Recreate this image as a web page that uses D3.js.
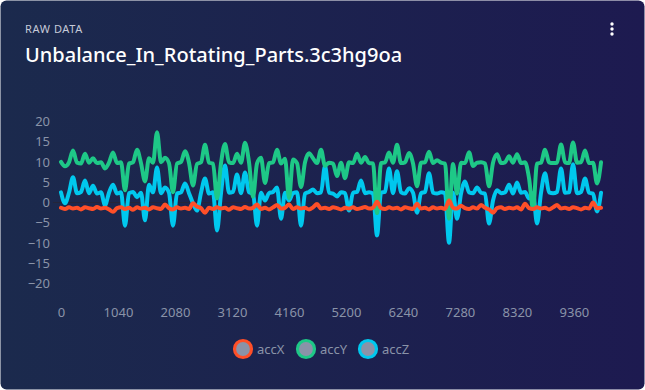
<!DOCTYPE html>
<html>
<head>
<meta charset="utf-8">
<script src="https://cdn.jsdelivr.net/npm/d3@7"></script>
<style>
    body { margin: 0; background: #ffffff; }
    svg text { font-family: "Noto Sans", "Open Sans", sans-serif; }
</style>
</head>
<body>
<div id="chart"></div>
<script>
// sample spacing on the x axis (one reading every 73 samples)
const sampleStep = 73;

const seriesNames = ['accX', 'accY', 'accZ'];
const seriesColors = ['#ff4f28', '#1ec887', '#00c8ee'];

const accX = [
    -1.3, -1.6, -1.2, -1.5, -1.3, -1.7, -1.2, -1.4, -1.6, -1.1,
    -1.5, -1.3, -1.7, -2.3, -1.4, -1.2, -1.6, -1.3, -1.8, -1.2,
    -1.5, -1.3, -1.7, -1.2, -1.4, -1.6, -0.5, -1.4, -1.7, -1.2,
    -1.5, -1.3, -1.6, -0.2, -1.0, -1.4, -2.5, -1.3, -1.6, -1.2,
    -1.5, -1.3, -1.8, -1.2, -1.4, -1.6, -1.1, -1.5, -1.3, -0.5,
    -1.6, -1.3, -1.7, -1.2, -0.6, -1.5, -1.3, -0.5, -1.6, -1.2,
    -1.5, -1.3, -1.7, -1.2, -0.4, -1.5, -1.3, -1.6, -1.2, -1.4,
    -1.7, -1.3, -1.5, -1.2, -1.6, -1.4, -1.1, -1.5, -1.3, 0.2,
    -1.4, -1.6, -1.2, -1.5, -1.3, -1.7, -1.2, -1.4, -1.6, -0.3,
    -1.5, -1.3, -1.7, -1.2, -1.5, -1.3, -1.6, 0.5, -1.3, -1.5,
    -0.8, -1.4, -1.6, -1.2, -1.5, -0.6, -1.3, -1.7, -2.5, -1.4,
    -1.2, -1.6, -1.3, -1.5, -1.2, -1.7, -0.3, -1.4, -1.6, -1.2,
    -1.5, -1.3, -1.7, -1.2, -0.6, -1.5, -1.3, -1.6, -1.2, -1.4,
    -1.7, -1.3, -1.5, 0.0, -1.4, -1.3
];

const accY = [
    10.0, 8.9, 9.9, 12.8, 9.8, 9.6, 12.0, 9.8, 10.9, 9.7,
    9.9, 8.4, 9.8, 12.3, 9.7, 9.9, 3.0, 9.6, 9.9, 13.0,
    9.7, 5.2, 10.9, 9.8, 17.3, 9.9, 11.0, 9.7, 2.5, 9.6,
    10.0, 12.6, 9.8, 4.2, 9.5, 9.9, 14.2, 9.8, 9.6, 1.0,
    9.7, 14.4, 9.9, 9.7, 12.0, 9.8, 14.7, 9.9, 1.4, 9.6,
    11.0, 4.8, 9.7, 9.9, 13.0, 9.6, 10.8, 1.1, 10.6, 9.7,
    3.8, 9.9, 12.1, 10.9, 9.7, 13.0, 9.0, 9.8, 9.6, 6.5,
    9.8, 6.0, 9.9, 9.7, 12.0, 9.8, 11.2, 9.7, 9.6, -2.6,
    9.7, 9.9, 12.3, 9.8, 14.2, 9.7, 9.9, 12.2, 9.6, 4.0,
    9.8, 9.9, 12.5, 9.7, 10.4, 9.8, 9.6, -4.0, 9.5, 2.2,
    9.8, 9.7, 12.4, 9.0, 9.8, 9.9, 9.6, 4.0, 9.8, 11.9,
    9.7, 9.9, 11.4, 9.8, 11.9, 9.7, 9.9, 6.0, -1.5, 9.6,
    9.8, 13.0, 9.9, 9.7, 9.8, 14.3, 9.9, 9.7, 14.8, 9.8,
    9.9, 12.8, 9.7, 9.8, 4.7, 9.9
];

const accZ = [
    2.5, -0.2, 2.4, 6.2, 2.3, 2.6, 5.4, 2.3, 4.1, 2.2,
    2.5, -0.7, 2.4, 4.4, 2.2, 2.5, -5.7, 2.3, 2.6, 1.3,
    2.4, -4.4, 4.4, 2.5, 8.6, 2.3, 3.7, 2.4, -5.7, 2.2,
    2.5, 4.7, 2.3, -0.2, -2.0, 2.4, 5.9, 2.2, 2.5, -6.9,
    2.3, 9.1, 2.4, 2.6, 6.9, 2.3, 7.4, 2.5, 2.2, -5.7,
    2.4, 0.5, 2.3, 2.6, 3.7, -4.0, 2.4, 0.5, 2.3, 2.5,
    -5.7, 2.2, 2.6, 3.2, 2.3, 2.5, 9.0, 2.4, 2.2, 1.5,
    2.5, 2.3, -2.0, 2.4, 2.6, 5.4, 2.3, 2.5, 2.2, -8.1,
    2.4, 2.6, 8.4, 2.3, 7.7, 2.5, 2.2, 3.5, 2.4, -2.5,
    2.3, 2.6, 7.2, 2.4, 2.2, 2.5, 2.3, -9.9, 2.4, -4.0,
    2.2, 5.2, 2.5, 2.3, 3.7, 2.4, 2.2, -5.2, 0.5, 3.0,
    2.3, 2.5, 4.4, 2.2, 4.9, 2.4, 2.6, 1.0, 2.3, -5.2,
    2.4, 7.2, 2.5, 2.3, 2.6, 8.4, 2.4, 2.5, 9.4, 2.3,
    2.6, 5.9, 2.4, 2.2, -2.2, 2.4
];

const yTicks = [-20, -15, -10, -5, 0, 5, 10, 15, 20];
const xTicks = [0, 1040, 2080, 3120, 4160, 5200, 6240, 7280, 8320, 9360];

const width = 645;
const height = 390;
const labelColor = '#8a93a8';

const svg = d3.select('#chart')
    .append('svg')
    .attr('width', width)
    .attr('height', height);

// card background
const defs = svg.append('defs');
const grad = defs.append('linearGradient')
    .attr('id', 'cardBg')
    .attr('x1', '0%').attr('y1', '0%')
    .attr('x2', '100%').attr('y2', '0%');
grad.append('stop').attr('offset', '0%').attr('stop-color', '#1b2a4d');
grad.append('stop').attr('offset', '100%').attr('stop-color', '#1d1a50');

svg.append('rect')
    .attr('x', 0.5).attr('y', 0.5)
    .attr('width', width - 1).attr('height', height - 1)
    .attr('rx', 6)
    .attr('fill', 'url(#cardBg)');

// header
svg.append('text')
    .attr('x', 25).attr('y', 33)
    .style('font-size', '11px')
    .style('letter-spacing', '0.6px')
    .style('fill', '#c6cad8')
    .text('RAW DATA');

svg.append('text')
    .attr('x', 25).attr('y', 62)
    .style('font-size', '20px')
    .style('font-weight', 500)
    .style('fill', '#ffffff')
    .text('Unbalance_In_Rotating_Parts.3c3hg9oa');

// menu dots
svg.selectAll('.menu-dot')
    .data([0, 1, 2])
    .join('circle')
    .attr('class', 'menu-dot')
    .attr('cx', 612)
    .attr('cy', (d) => 24 + d * 5)
    .attr('r', 1.7)
    .attr('fill', '#ffffff');

// scales
const x = d3.scaleLinear().domain([0, 9900]).range([61, 603.5]);
const y = d3.scaleLinear().domain([-25, 25]).range([304, 101]);

// y axis
const yAxis = svg.append('g')
    .attr('transform', 'translate(58,0)')
    .call(d3.axisLeft(y).tickValues(yTicks).tickSize(0).tickPadding(8));
yAxis.select('.domain').remove();
yAxis.selectAll('text')
    .style('font-size', '13px')
    .style('font-family', '"Noto Sans", sans-serif')
    .style('fill', labelColor);

// x axis labels
const xAxis = svg.append('g')
    .attr('transform', 'translate(0,302)')
    .call(d3.axisBottom(x).tickValues(xTicks).tickFormat(d3.format('d')).tickSize(0).tickPadding(6));
xAxis.select('.domain').remove();
xAxis.selectAll('text')
    .style('font-size', '13px')
    .style('font-family', '"Noto Sans", sans-serif')
    .style('fill', labelColor);

// zero line
svg.append('line')
    .attr('x1', 53).attr('x2', x(9900))
    .attr('y1', y(0)).attr('y2', y(0))
    .attr('stroke', '#23253a')
    .attr('stroke-width', 1);

// lines, accZ at the back and accX on top
const series = [
    { name: 'accZ', values: accZ, color: seriesColors[2] },
    { name: 'accY', values: accY, color: seriesColors[1] },
    { name: 'accX', values: accX, color: seriesColors[0] }
];

const line = d3.line()
    .x((d, i) => x(i * sampleStep))
    .y((d) => y(d))
    .curve(d3.curveMonotoneX);

svg.append('g')
    .selectAll('path')
    .data(series)
    .join('path')
    .attr('d', (d) => line(d.values))
    .attr('fill', 'none')
    .attr('stroke', (d) => d.color)
    .attr('stroke-width', 4)
    .attr('stroke-linejoin', 'round')
    .attr('stroke-linecap', 'round');

// legend
const legendX = [243, 306, 368];
const legend = svg.append('g')
    .selectAll('g')
    .data(seriesNames)
    .join('g')
    .attr('transform', (d, i) => `translate(${legendX[i]},349)`);

legend.append('circle')
    .attr('r', 8.5)
    .attr('fill', labelColor)
    .attr('stroke', (d, i) => seriesColors[i])
    .attr('stroke-width', 3.2);

legend.append('text')
    .attr('x', 14)
    .attr('dy', '0.35em')
    .style('font-size', '13px')
    .style('fill', labelColor)
    .text((d) => d);
</script>
</body>
</html>
